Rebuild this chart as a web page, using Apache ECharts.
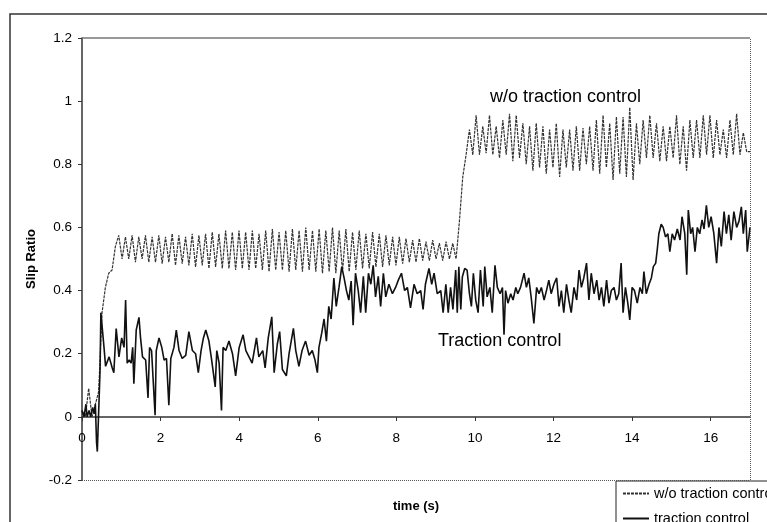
<!DOCTYPE html>
<html>
<head>
<meta charset="utf-8">
<script src="https://cdn.jsdelivr.net/npm/echarts@6/dist/echarts.min.js"></script>
<style>
html, body { margin: 0; padding: 0; background: #fff; }
#chart { width: 767px; height: 522px; }
</style>
</head>
<body>
<div id="chart"></div>
<script>
var seriesNames = ['w/o traction control', 'traction control'];
var xTicks = [0, 2, 4, 6, 8, 10, 12, 14, 16];

// w/o traction control, one sample every 0.085 s from t = 0
var ntcStep = 0.085;
var ntcSlip = [
    .02, 0, .09, 0, .04, .08, .33, .41, .455, .465,
    .54, .575, .50, .57, .50, .575, .49, .57, .50, .575,
    .49, .57, .49, .575, .485, .57, .49, .58, .48, .575,
    .485, .57, .48, .58, .475, .575, .48, .58, .47, .585,
    .475, .58, .47, .59, .47, .585, .465, .59, .47, .585,
    .465, .59, .47, .58, .465, .59, .46, .595, .465, .585,
    .465, .59, .46, .595, .465, .59, .46, .60, .465, .59,
    .46, .595, .455, .59, .46, .60, .455, .59, .46, .595,
    .46, .585, .465, .59, .47, .58, .47, .585, .475, .58,
    .475, .575, .48, .57, .48, .57, .485, .565, .49, .56,
    .49, .565, .495, .555, .495, .56, .50, .55, .495, .555,
    .50, .55, .50, .62, .76, .83, .91, .83, .955, .83,
    .92, .835, .955, .83, .92, .82, .94, .83, .96, .81,
    .955, .82, .93, .80, .92, .78, .93, .79, .92, .77,
    .91, .79, .93, .76, .91, .79, .91, .78, .92, .78,
    .915, .80, .92, .78, .94, .77, .955, .79, .93, .75,
    .95, .77, .95, .76, .98, .75, .93, .80, .94, .82,
    .955, .82, .93, .81, .92, .81, .92, .82, .955, .80,
    .92, .78, .94, .82, .94, .82, .955, .83, .955, .82,
    .94, .83, .91, .82, .94, .83, .96, .83, .90, .84,
    .84
];

// traction control, read point by point
var tcTime = [
    0, .05, .1, .13, .18, .22, .27, .31, .34, .37, .39, .42, .46, .48, .53, .56, .6, .69, .77, .81,
    .87, .94, 1.01, 1.07, 1.11, 1.15, 1.2, 1.25, 1.29, 1.32, 1.38, 1.45, 1.49, 1.54, 1.58, 1.62, 1.68, 1.72, 1.77, 1.86,
    1.89, 1.96, 2.03, 2.09, 2.15, 2.21, 2.26, 2.34, 2.4, 2.47, 2.55, 2.64, 2.72, 2.81, 2.89, 2.96, 3.03, 3.09, 3.15, 3.23,
    3.3, 3.39, 3.43, 3.49, 3.55, 3.59, 3.66, 3.74, 3.83, 3.91, 4.0, 4.1, 4.17, 4.25, 4.33, 4.44, 4.5, 4.6, 4.66, 4.74,
    4.83, 4.89, 4.97, 5.03, 5.1, 5.2, 5.27, 5.38, 5.44, 5.52, 5.6, 5.69, 5.78, 5.86, 5.93, 5.99, 6.03, 6.1, 6.16, 6.22,
    6.28, 6.34, 6.41, 6.47, 6.54, 6.61, 6.67, 6.73, 6.79, 6.85, 6.9, 6.96, 7.03, 7.09, 7.16, 7.22, 7.29, 7.35, 7.41, 7.47,
    7.54, 7.6, 7.67, 7.73, 7.81, 7.9, 7.98, 8.05, 8.13, 8.21, 8.28, 8.36, 8.45, 8.53, 8.62, 8.68, 8.74, 8.83, 8.9, 8.96,
    9.04, 9.13, 9.19, 9.26, 9.32, 9.38, 9.44, 9.51, 9.55, 9.59, 9.64, 9.68, 9.74, 9.8, 9.86, 9.91, 9.96, 10.02, 10.08, 10.14,
    10.21, 10.25, 10.31, 10.38, 10.44, 10.51, 10.57, 10.64, 10.7, 10.74, 10.78, 10.84, 10.91, 10.97, 11.04, 11.09, 11.16, 11.25, 11.31, 11.37,
    11.43, 11.5, 11.57, 11.63, 11.69, 11.76, 11.82, 11.88, 11.94, 12.01, 12.08, 12.14, 12.2, 12.26, 12.33, 12.39, 12.45, 12.52, 12.59, 12.65,
    12.71, 12.77, 12.84, 12.9, 12.96, 13.03, 13.1, 13.16, 13.22, 13.28, 13.35, 13.41, 13.47, 13.54, 13.6, 13.66, 13.72, 13.77, 13.83, 13.89,
    13.94, 14.0, 14.06, 14.13, 14.2, 14.26, 14.3, 14.36, 14.43, 14.49, 14.54, 14.6, 14.64, 14.68, 14.74, 14.79, 14.85, 14.91, 14.96, 15.02,
    15.08, 15.15, 15.22, 15.27, 15.34, 15.39, 15.43, 15.49, 15.54, 15.6, 15.66, 15.72, 15.78, 15.83, 15.89, 15.95, 16.01, 16.08, 16.15, 16.21,
    16.27, 16.34, 16.4, 16.46, 16.52, 16.59, 16.66, 16.72, 16.78, 16.83, 16.89, 16.93, 17.0
];
var tcSlip = [
    .02, 0, .04, 0, .02, 0, .03, .01, .04, -.08, -.11, 0, .15, .33, .33, .22, .16, .19, .155, .14,
    .28, .19, .25, .22, .37, .17, .18, .17, .22, .105, .275, .315, .25, .19, .19, .18, .06, .22, .21, .005,
    .21, .25, .22, .18, .185, .037, .185, .22, .275, .21, .185, .195, .27, .21, .2, .14, .21, .25, .275, .24,
    .18, .095, .21, .17, .02, .22, .21, .24, .2, .13, .22, .26, .21, .19, .17, .25, .19, .21, .155, .25,
    .317, .14, .23, .27, .15, .13, .2, .28, .21, .16, .21, .24, .195, .21, .18, .14, .22, .265, .31, .24,
    .35, .31, .44, .35, .41, .475, .44, .40, .37, .43, .29, .455, .40, .33, .445, .33, .455, .42, .48, .38,
    .445, .35, .455, .38, .42, .39, .41, .433, .455, .40, .41, .345, .42, .39, .40, .34, .42, .47, .42, .455,
    .39, .40, .33, .42, .33, .41, .34, .465, .33, .475, .34, .444, .47, .465, .39, .35, .455, .37, .33, .465,
    .35, .476, .38, .41, .33, .48, .41, .39, .41, .26, .40, .36, .39, .37, .41, .39, .41, .455, .41, .44,
    .38, .296, .41, .39, .41, .37, .40, .433, .39, .42, .44, .35, .40, .33, .42, .37, .33, .41, .37, .465,
    .41, .44, .487, .37, .455, .39, .433, .37, .41, .35, .433, .36, .40, .41, .37, .39, .487, .33, .41, .36,
    .307, .41, .40, .36, .41, .39, .46, .39, .42, .44, .476, .487, .53, .58, .61, .60, .57, .58, .523, .58,
    .56, .595, .56, .634, .58, .45, .655, .58, .60, .523, .60, .58, .624, .595, .67, .60, .634, .58, .487, .60,
    .54, .65, .58, .64, .56, .65, .60, .62, .665, .58, .655, .523, .60
];

var ntcData = ntcSlip.map(function (v, i) { return [+(i * ntcStep).toFixed(3), v]; });
var tcData = tcTime.map(function (t, i) { return [t, tcSlip[i]]; });

var font = '"Liberation Sans", Arial, sans-serif';
var chart = echarts.init(document.getElementById('chart'));
chart.setOption({
    animation: false,
    backgroundColor: '#fff',
    textStyle: { fontFamily: font },
    grid: { left: 82, right: 17, top: 38, bottom: 42, containLabel: false, outerBoundsMode: 'none' },
    legend: {
        orient: 'vertical',
        left: 616,
        top: 481,
        height: 70,
        padding: [5, 6, 5, 6],
        itemGap: 10,
        itemWidth: 26,
        itemHeight: 14,
        borderColor: '#222',
        borderWidth: 1,
        itemStyle: { color: 'rgba(0,0,0,0)', borderColor: 'rgba(0,0,0,0)', borderWidth: 0 },
        textStyle: { fontSize: 14.5, color: '#000', fontFamily: font },
        data: seriesNames
    },
    xAxis: {
        type: 'value',
        min: 0,
        max: 17,
        interval: 2,
        position: 'bottom',
        offset: -63,
        name: 'time (s)',
        nameLocation: 'middle',
        nameGap: 83,
        nameTextStyle: { fontWeight: 'bold', fontSize: 13, color: '#000' },
        axisLine: { onZero: false, lineStyle: { color: '#333', width: 1.5 } },
        axisTick: { length: 4, customValues: xTicks, lineStyle: { color: '#333' } },
        axisLabel: { margin: 14, fontSize: 13.5, color: '#000', customValues: xTicks },
        splitLine: { show: false }
    },
    yAxis: {
        type: 'value',
        min: -0.2,
        max: 1.2,
        interval: 0.2,
        name: 'Slip Ratio',
        nameLocation: 'middle',
        nameGap: 44,
        nameRotate: 90,
        nameTextStyle: { fontWeight: 'bold', fontSize: 13, color: '#000' },
        axisLine: { show: true, onZero: false, lineStyle: { color: '#333', width: 1.5 } },
        axisTick: { show: true, length: 4, lineStyle: { color: '#333' } },
        axisLabel: { margin: 10, fontSize: 13.5, color: '#000' },
        splitLine: { show: false }
    },
    graphic: [
        {
            type: 'rect',
            silent: true,
            z: -10,
            shape: { x: 10, y: 14, width: 900, height: 700 },
            style: { fill: null, stroke: '#333', lineWidth: 1.5 }
        },
        {
            type: 'text',
            left: 490,
            top: 88,
            style: { text: 'w/o traction control', fontSize: 18, fontFamily: font, fill: '#000' }
        },
        {
            type: 'text',
            left: 438,
            top: 332,
            style: { text: 'Traction control', fontSize: 18, fontFamily: font, fill: '#000' }
        }
    ],
    series: [
        {
            name: seriesNames[0],
            type: 'line',
            symbol: 'none',
            clip: false,
            itemStyle: { color: '#333' },
            lineStyle: { color: '#333', width: 1.2, type: [3, 1] },
            data: ntcData,
            markLine: {
                silent: true,
                symbol: ['none', 'none'],
                label: { show: false },
                data: [
                    { yAxis: 1.2, lineStyle: { color: '#777', width: 1.5, type: 'solid' } },
                    { yAxis: -0.2, lineStyle: { color: '#555', width: 1, type: 'dotted' } },
                    { xAxis: 17, lineStyle: { color: '#555', width: 1, type: 'dotted' } }
                ]
            }
        },
        {
            name: seriesNames[1],
            type: 'line',
            symbol: 'none',
            clip: false,
            itemStyle: { color: '#111' },
            lineStyle: { color: '#111', width: 1.6 },
            data: tcData
        }
    ]
});
</script>
</body>
</html>
